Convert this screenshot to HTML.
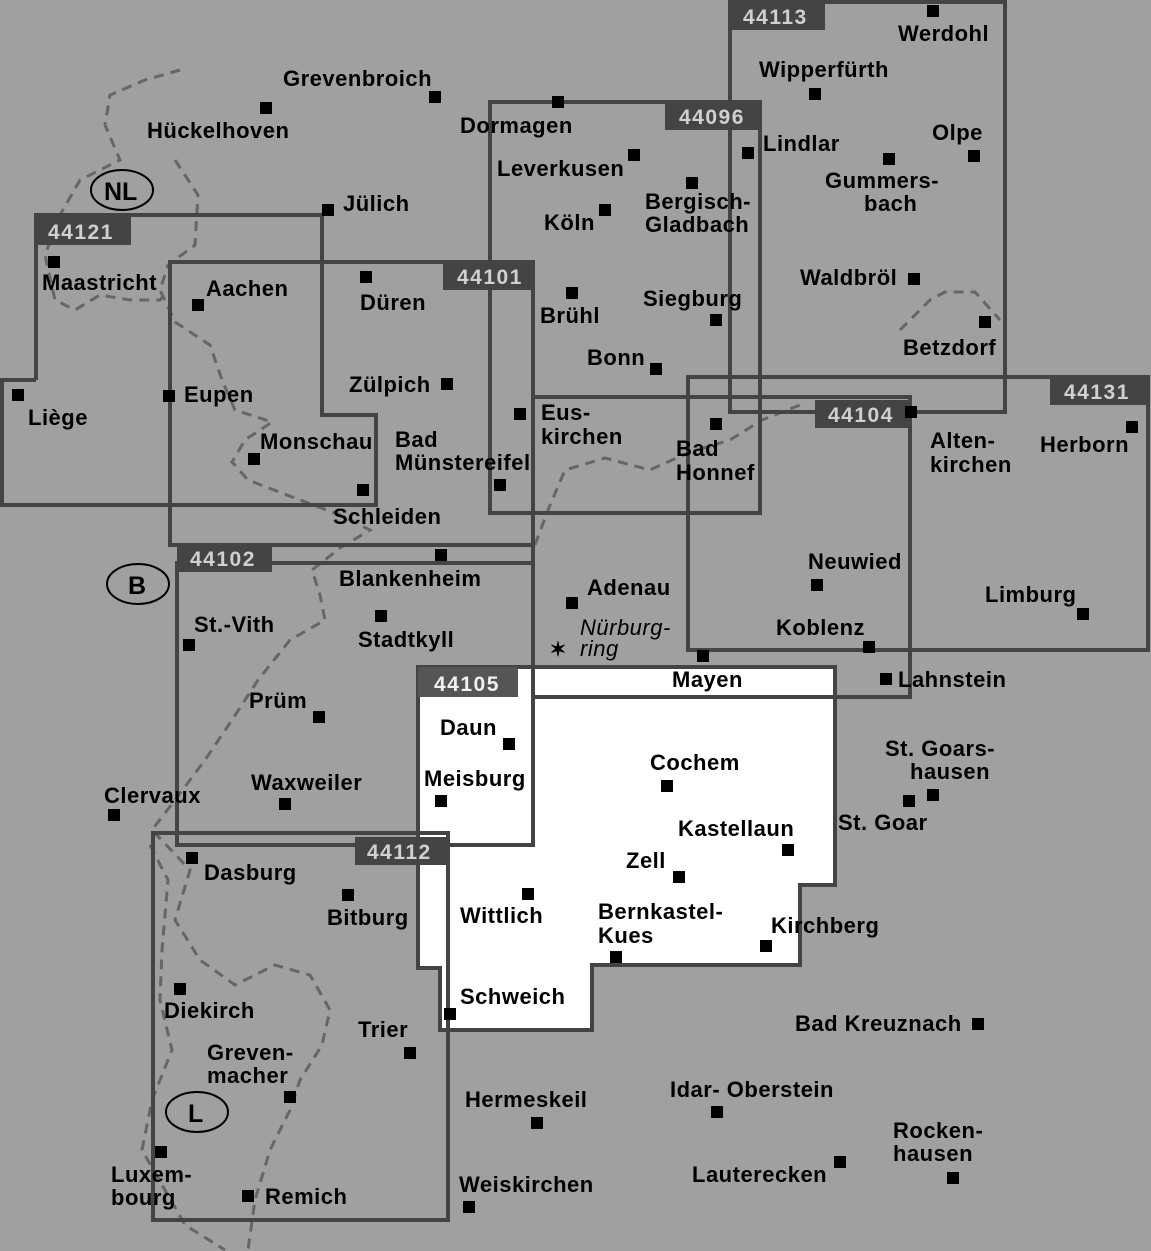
<!DOCTYPE html>
<html><head><meta charset="utf-8"><style>
html,body{margin:0;padding:0;background:#a0a0a0}
svg{display:block}
text{font-family:"Liberation Sans",sans-serif;font-weight:bold;font-size:22px;letter-spacing:0.5px;fill:#000}
.lb{fill:#d0d0d0;font-size:21px;letter-spacing:1.5px}
.it{font-style:italic;font-weight:normal}
</style></head><body>
<svg width="1151" height="1251" viewBox="0 0 1151 1251" xmlns="http://www.w3.org/2000/svg">
<rect width="1151" height="1251" fill="#a0a0a0"/>
<polygon points="418,667 835,667 835,885 800,885 800,965 592,965 592,1030 440,1030 440,968 418,968" fill="#fff"/>
<g fill="none" stroke="#666" stroke-width="3" stroke-dasharray="10,7">
<polyline points="180,70 145,80 110,95 105,125 120,160 80,180 60,215 45,255 55,300 75,310 100,295 130,300 160,300 168,290"/>
<polyline points="175,160 198,195 195,245 168,265 160,290 175,322 210,345 222,380 235,410 272,422 245,440 232,462 248,480 300,500 340,515 370,530 340,548 312,570 320,595 325,620 290,640 258,680 232,720 205,760 175,800 152,830 190,870 175,920 200,960 235,985 275,965 310,975 330,1010 322,1045 300,1080 290,1110 270,1150 255,1200 248,1250"/>
<polyline points="150,845 168,880 162,950 160,1000 172,1050 152,1100 142,1150 185,1225 225,1250"/>
<polyline points="535,545 548,510 565,470 605,458 650,470 690,452 730,440 762,420 800,405"/>
<polyline points="900,330 930,300 945,292 975,292 1000,320"/>
</g>
<g fill="none" stroke="#444" stroke-width="4">
<polyline points="36,380 36,215 322,215 322,415 376,415 376,505 2,505 2,380 36,380"/>
<rect x="170" y="262" width="363" height="283"/>
<rect x="177" y="563" width="356" height="282"/>
<rect x="490" y="102" width="270" height="411"/>
<rect x="730" y="2" width="275" height="410"/>
<rect x="533" y="397" width="377" height="300"/>
<rect x="688" y="377" width="460" height="273"/>
<rect x="153" y="833" width="295" height="387"/>
<polygon points="418,667 835,667 835,885 800,885 800,965 592,965 592,1030 440,1030 440,968 418,968"/>
<line x1="533" y1="667" x2="533" y2="845"/>
</g>
<g>
<rect x="36" y="215" width="95" height="30" fill="#444"/><text class="lb" x="48" y="239">44121</text>
<rect x="443" y="262" width="90" height="28" fill="#444"/><text class="lb" x="457" y="284">44101</text>
<rect x="177" y="545" width="95" height="27" fill="#444"/><text class="lb" x="190" y="566">44102</text>
<rect x="665" y="102" width="95" height="28" fill="#444"/><text class="lb" x="679" y="124">44096</text>
<rect x="730" y="2" width="95" height="28" fill="#444"/><text class="lb" x="743" y="24">44113</text>
<rect x="815" y="400" width="95" height="28" fill="#444"/><text class="lb" x="828" y="422">44104</text>
<rect x="1050" y="377" width="98" height="28" fill="#444"/><text class="lb" x="1064" y="399">44131</text>
<rect x="355" y="837" width="93" height="28" fill="#444"/><text class="lb" x="367" y="859">44112</text>
<rect x="418" y="667" width="100" height="30" fill="#555"/><text class="lb" x="434" y="691" style="fill:#f0f0f0">44105</text>
</g>
<g fill="none" stroke="#000" stroke-width="2">
<ellipse cx="122" cy="190" rx="31" ry="20"/>
<ellipse cx="138" cy="584" rx="31" ry="20"/>
<ellipse cx="197" cy="1112" rx="31" ry="20"/>
</g>
<text x="104" y="200" style="font-size:25px;letter-spacing:0">NL</text>
<text x="128" y="594" style="font-size:25px;letter-spacing:0">B</text>
<text x="188" y="1122" style="font-size:25px;letter-spacing:0">L</text>
<g fill="#000">
<rect x="429" y="91" width="12" height="12"/><rect x="260" y="102" width="12" height="12"/><rect x="552" y="96" width="12" height="12"/>
<rect x="322" y="204" width="12" height="12"/><rect x="48" y="256" width="12" height="12"/><rect x="192" y="299" width="12" height="12"/>
<rect x="360" y="271" width="12" height="12"/><rect x="12" y="389" width="12" height="12"/><rect x="163" y="390" width="12" height="12"/>
<rect x="441" y="378" width="12" height="12"/><rect x="248" y="453" width="12" height="12"/><rect x="494" y="479" width="12" height="12"/>
<rect x="357" y="484" width="12" height="12"/><rect x="628" y="149" width="12" height="12"/><rect x="599" y="204" width="12" height="12"/>
<rect x="686" y="177" width="12" height="12"/><rect x="566" y="287" width="12" height="12"/><rect x="710" y="314" width="12" height="12"/>
<rect x="650" y="363" width="12" height="12"/><rect x="514" y="408" width="12" height="12"/><rect x="710" y="418" width="12" height="12"/>
<rect x="809" y="88" width="12" height="12"/><rect x="927" y="5" width="12" height="12"/><rect x="742" y="147" width="12" height="12"/>
<rect x="968" y="150" width="12" height="12"/><rect x="883" y="153" width="12" height="12"/><rect x="908" y="273" width="12" height="12"/>
<rect x="979" y="316" width="12" height="12"/><rect x="905" y="406" width="12" height="12"/><rect x="1126" y="421" width="12" height="12"/>
<rect x="811" y="579" width="12" height="12"/><rect x="1077" y="608" width="12" height="12"/><rect x="863" y="641" width="12" height="12"/>
<rect x="880" y="673" width="12" height="12"/><rect x="566" y="597" width="12" height="12"/><rect x="697" y="650" width="12" height="12"/>
<rect x="435" y="549" width="12" height="12"/><rect x="375" y="610" width="12" height="12"/><rect x="183" y="639" width="12" height="12"/>
<rect x="313" y="711" width="12" height="12"/><rect x="279" y="798" width="12" height="12"/><rect x="108" y="809" width="12" height="12"/>
<rect x="503" y="738" width="12" height="12"/><rect x="435" y="795" width="12" height="12"/><rect x="661" y="780" width="12" height="12"/>
<rect x="782" y="844" width="12" height="12"/><rect x="673" y="871" width="12" height="12"/><rect x="522" y="888" width="12" height="12"/>
<rect x="610" y="951" width="12" height="12"/><rect x="760" y="940" width="12" height="12"/><rect x="927" y="789" width="12" height="12"/>
<rect x="903" y="795" width="12" height="12"/><rect x="186" y="852" width="12" height="12"/><rect x="342" y="889" width="12" height="12"/>
<rect x="444" y="1008" width="12" height="12"/><rect x="174" y="983" width="12" height="12"/><rect x="404" y="1047" width="12" height="12"/>
<rect x="284" y="1091" width="12" height="12"/><rect x="972" y="1018" width="12" height="12"/><rect x="711" y="1106" width="12" height="12"/>
<rect x="531" y="1117" width="12" height="12"/><rect x="947" y="1172" width="12" height="12"/><rect x="834" y="1156" width="12" height="12"/>
<rect x="155" y="1146" width="12" height="12"/><rect x="242" y="1190" width="12" height="12"/><rect x="463" y="1201" width="12" height="12"/>
</g>
<text x="558" y="656" style="font-size:20px;letter-spacing:0" text-anchor="middle">✶</text>
<g>
<text x="283" y="86">Grevenbroich</text><text x="147" y="138">Hückelhoven</text><text x="460" y="133">Dormagen</text>
<text x="343" y="211">Jülich</text><text x="42" y="290">Maastricht</text><text x="206" y="296">Aachen</text>
<text x="360" y="310">Düren</text><text x="28" y="425">Liège</text><text x="184" y="402">Eupen</text>
<text x="349" y="392">Zülpich</text><text x="260" y="449">Monschau</text><text x="395" y="447">Bad</text><text x="395" y="470">Münstereifel</text>
<text x="333" y="524">Schleiden</text><text x="497" y="176">Leverkusen</text><text x="544" y="230">Köln</text>
<text x="645" y="209">Bergisch-</text><text x="645" y="232">Gladbach</text><text x="540" y="323">Brühl</text>
<text x="643" y="306">Siegburg</text><text x="587" y="365">Bonn</text><text x="541" y="420">Eus-</text><text x="541" y="444">kirchen</text>
<text x="676" y="456">Bad</text><text x="676" y="480">Honnef</text>
<text x="759" y="77">Wipperfürth</text><text x="898" y="41">Werdohl</text><text x="763" y="151">Lindlar</text>
<text x="932" y="140">Olpe</text><text x="825" y="188">Gummers-</text><text x="864" y="211">bach</text>
<text x="800" y="285">Waldbröl</text><text x="903" y="355">Betzdorf</text><text x="930" y="448">Alten-</text><text x="930" y="472">kirchen</text>
<text x="1040" y="452">Herborn</text><text x="808" y="569">Neuwied</text><text x="985" y="602">Limburg</text>
<text x="776" y="635">Koblenz</text><text x="898" y="687">Lahnstein</text><text x="587" y="595">Adenau</text>
<text class="it" x="580" y="635">Nürburg-</text><text class="it" x="580" y="656">ring</text>
<text x="672" y="687">Mayen</text><text x="339" y="586">Blankenheim</text><text x="358" y="647">Stadtkyll</text>
<text x="194" y="632">St.-Vith</text><text x="249" y="708">Prüm</text><text x="251" y="790">Waxweiler</text>
<text x="104" y="803">Clervaux</text><text x="440" y="735">Daun</text><text x="424" y="786">Meisburg</text>
<text x="650" y="770">Cochem</text><text x="678" y="836">Kastellaun</text><text x="626" y="868">Zell</text>
<text x="460" y="923">Wittlich</text><text x="598" y="919">Bernkastel-</text><text x="598" y="943">Kues</text>
<text x="771" y="933">Kirchberg</text><text x="885" y="756">St. Goars-</text><text x="910" y="779">hausen</text>
<text x="838" y="830">St. Goar</text><text x="204" y="880">Dasburg</text><text x="327" y="925">Bitburg</text>
<text x="460" y="1004">Schweich</text><text x="164" y="1018">Diekirch</text><text x="358" y="1037">Trier</text>
<text x="207" y="1060">Greven-</text><text x="207" y="1083">macher</text><text x="795" y="1031">Bad Kreuznach</text>
<text x="670" y="1097">Idar- Oberstein</text><text x="465" y="1107">Hermeskeil</text>
<text x="893" y="1138">Rocken-</text><text x="893" y="1161">hausen</text><text x="692" y="1182">Lauterecken</text>
<text x="111" y="1182">Luxem-</text><text x="111" y="1205">bourg</text><text x="265" y="1204">Remich</text>
<text x="459" y="1192">Weiskirchen</text>
</g>
</svg>
</body></html>
